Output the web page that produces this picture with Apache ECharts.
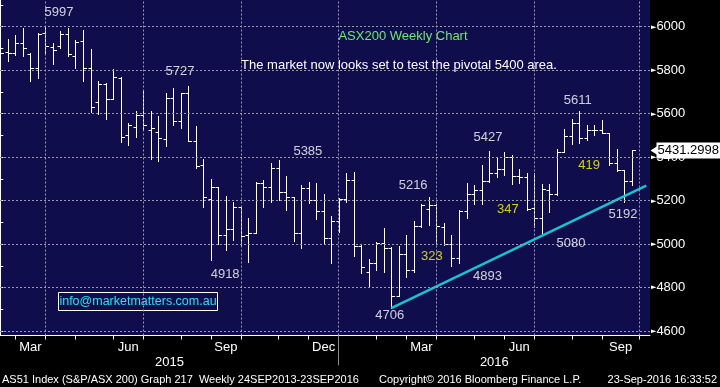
<!DOCTYPE html>
<html><head><meta charset="utf-8">
<script src="https://cdn.jsdelivr.net/npm/echarts@6/dist/echarts.min.js"></script>
<style>html,body{margin:0;padding:0;background:#000;}#c{width:720px;height:387px;}</style>
</head><body><div id="c"></div>
<script>
// Weekly OHLC, bar index 0 = week ending 13 Feb 2015 ... 84 = week ending 23 Sep 2016
const opens = [5800,5885,5880,5925,5876,5810,5970,5905,5910,5965,
5866,5935,5810,5655,5737,5667,5765,5500,5541,5593,
5527,5515,5486,5670,5566,5697,5474,5363,5207,5262,
5040,5069,5170,5040,5051,5281,5265,5349,5239,5216,
5051,5258,5204,5154,5028,5108,5209,5293,4991,4870,
4915,5007,4981,4763,4953,4881,5084,5163,5182,5080,
4999,4935,5153,5232,5250,5290,5328,5347,5403,5313,
5310,5165,5119,5249,5229,5424,5496,5557,5490,5527,
5524,5511,5374,5340,5290];
const highs = [5890,5945,5960,5995,5880,5973,5998,5927,5980,5995,
5938,5983,5897,5752,5740,5804,5768,5558,5611,5708,
5611,5588,5693,5717,5697,5727,5543,5394,5302,5265,
5221,5195,5172,5119,5285,5296,5372,5385,5314,5218,
5273,5285,5281,5230,5131,5212,5326,5331,4996,4930,
5011,5073,4985,4992,5040,5105,5186,5216,5185,5098,
5044,5156,5281,5270,5362,5427,5400,5423,5412,5345,
5326,5326,5279,5279,5440,5531,5577,5611,5547,5547,
5573,5511,5440,5340,5431.3];
const lows = [5745,5842,5868,5866,5750,5763,5874,5828,5901,5866,
5810,5750,5608,5601,5578,5667,5471,5455,5493,5527,
5394,5383,5452,5547,5535,5474,5352,5172,4928,5000,
4975,5020,4992,4918,5051,5169,5196,5204,5155,5013,
4982,5189,5118,5000,4915,5056,5192,4944,4866,4804,
4881,4874,4706,4763,4850,4874,5080,5087,5003,4995,
4900,4912,5121,5186,5186,5285,5308,5316,5278,5280,
5155,5081,5053,5150,5226,5424,5463,5466,5481,5501,
5511,5363,5336,5192,5270];
const closes = [5878,5880,5925,5900,5810,5968,5912,5895,5965,5874,
5930,5810,5631,5737,5667,5770,5494,5546,5593,5546,
5536,5490,5670,5566,5697,5474,5359,5216,5262,5040,
5069,5170,5039,5050,5281,5265,5349,5239,5216,5051,
5258,5204,5154,5028,5108,5209,5293,4991,4894,4915,
5007,4981,4763,4953,4881,5084,5179,5182,5083,4999,
4935,5153,5232,5250,5290,5328,5347,5403,5313,5310,
5162,5119,5252,5229,5424,5496,5557,5490,5527,5524,
5511,5374,5340,5290,5431.2998];
const lastPrice = 5431.2998;

// x axis (bar index) ticks and labels
const monthTickIdx = [2,6,10,15,19,24,28,32,37,41,45,50,54,58,63,67,71,76,80,85];
const quarterGridIdx = [6,19,32,45,58,71,85];
const monthLabelPos = [4,17,30,43,56,69,82.5];
const monthLabels = ['Mar','Jun','Sep','Dec','Mar','Jun','Sep'];
const yearBreakIdx = [45];
const yearLabelPos = [22.5,65.7];
const yearLabels = ['2015','2016'];
// y axis
const yTickValues = [4600,4700,4800,4900,5000,5100,5200,5300,5400,5500,5600,5700,5800,5900,6000,6100];
const yLabelValues = [4600,4800,5000,5200,5400,5600,5800,6000];
// trendline (index, value)
const trendPoints = [[52,4706],[85.9,5269]];
// annotations (index, value, text)
const whiteNotes = [[7.8,6067,'5997'],[23.9,5796,'5727'],[40.9,5428,'5385'],[54.9,5272,'5216'],
  [29.9,4861,'4918'],[51.8,4672,'4706'],[64.8,4854,'4893'],[75.9,5005,'5080'],[82.8,5136,'5192'],
  [64.85,5493,'5427'],[76.8,5663,'5611']];
const yellowNotes = [[57.4,4944,'323'],[67.5,5159,'347'],[78.3,5364,'419']];

const FA = "'Liberation Sans',Arial,sans-serif";
const X_MAX = 86.4;

const ohlc = opens.map((o,i)=>[i,o,highs[i],lows[i],closes[i]]);
const chart = echarts.init(document.getElementById('c'));
const option = {
  backgroundColor:'#000',
  animation:false,
  grid:{left:0,right:70,top:0,bottom:51.5,show:true,backgroundColor:'#0f0d4c',borderWidth:0},
  xAxis:[{
    type:'value',min:-0.04,max:X_MAX,
    axisLine:{show:true,lineStyle:{color:'#fff',width:1}},
    axisTick:{show:true,customValues:monthTickIdx,length:4,lineStyle:{color:'#fff'}},
    axisLabel:{show:true,customValues:monthLabelPos,formatter:v=>monthLabels[monthLabelPos.indexOf(v)],
      color:'#fff',fontSize:13,margin:5,fontFamily:FA},
    splitLine:{show:false}
  },{
    type:'value',min:-0.04,max:X_MAX,position:'bottom',offset:0,
    axisLine:{show:false},
    axisTick:{show:true,customValues:yearBreakIdx,length:30,lineStyle:{color:'#8a8a8a'}},
    axisLabel:{show:true,customValues:yearLabelPos,formatter:v=>yearLabels[yearLabelPos.indexOf(v)],
      color:'#fff',fontSize:13,margin:20,fontFamily:FA},
    splitLine:{show:false}
  }],
  yAxis:{
    type:'value',position:'right',min:4580,max:6123,
    axisLine:{show:true,lineStyle:{color:'#fff'}},
    axisTick:{show:true,customValues:yTickValues,length:3,lineStyle:{color:'#fff'}},
    axisLabel:{show:true,customValues:yLabelValues,margin:1,
      formatter:v=>'{t|►}{v|'+v+'}',
      rich:{t:{fontSize:7,color:'#fff',fontFamily:'DejaVu Sans'},v:{fontSize:13,color:'#fff',fontFamily:FA}}},
    splitLine:{show:false}
  },
  series:[
    {type:'line',name:'grid',data:[],z:1,silent:true,
      markLine:{silent:true,symbol:'none',animation:false,
        lineStyle:{color:'#9a9aae',type:[2,2],width:1},label:{show:false},
        data:quarterGridIdx.map(v=>({xAxis:v})).concat(yLabelValues.map(v=>({yAxis:v})))}},
    {type:'custom',name:'ASX200',data:ohlc,z:3,encode:{x:0,y:[1,2,3,4]},
      renderItem:(params,api)=>{
        const i=api.value(0),o=api.value(1),h=api.value(2),l=api.value(3),c=api.value(4);
        const pH=api.coord([i,h]),pL=api.coord([i,l]),pO=api.coord([i,o]),pC=api.coord([i,c]);
        const x=Math.round(pH[0])+0.5;
        const yo=Math.round(pO[1])+0.5,yc=Math.round(pC[1])+0.5;
        const st={stroke:'#fff',lineWidth:1};
        return {type:'group',children:[
          {type:'line',shape:{x1:x,y1:Math.round(pH[1]),x2:x,y2:Math.round(pL[1])+1},style:st},
          {type:'line',shape:{x1:x-3,y1:yo,x2:x,y2:yo},style:st},
          {type:'line',shape:{x1:x,y1:yc,x2:x+3.5,y2:yc},style:st}
        ]};
      }},
    {type:'line',name:'trend',data:trendPoints,z:4,symbol:'none',silent:true,
      lineStyle:{color:'#17c3cf',width:2.5}},
    {type:'line',name:'last',data:[],z:8,silent:true,
      markPoint:{silent:true,symbol:'triangle',symbolSize:[9,7],symbolRotate:90,symbolOffset:[4,0],
        itemStyle:{color:'#fff'},
        label:{show:true,position:'right',distance:-1,formatter:()=>String(lastPrice),
          backgroundColor:'#fff',color:'#000',fontSize:13,fontFamily:FA,padding:[2,2,1,1]},
        data:[{coord:[X_MAX,lastPrice]}]}},
    {type:'scatter',name:'notes',data:whiteNotes,symbolSize:0,z:6,silent:true,
      label:{show:true,position:'inside',formatter:p=>p.value[2],color:'#fff',fontSize:13,fontFamily:FA}},
    {type:'scatter',name:'moves',data:yellowNotes,symbolSize:0,z:6,silent:true,
      label:{show:true,position:'inside',formatter:p=>p.value[2],color:'#ffff00',fontSize:13,fontFamily:FA}}
  ],
  graphic:[
    {type:'text',x:403,y:36,style:{text:'ASX200 Weekly Chart',fill:'#6ee86e',font:'13px '+FA,align:'center',verticalAlign:'middle'}},
    {type:'text',x:399,y:65,style:{text:'The market now looks set to test the pivotal 5400 area.',fill:'#fff',font:'13px '+FA,align:'center',verticalAlign:'middle'}},
    {type:'rect',shape:{x:58.5,y:292.5,width:159,height:18},style:{stroke:'#fff',fill:'transparent',lineWidth:1}},
    {type:'text',x:138,y:302,style:{text:'info@marketmatters.com.au',fill:'#22e4f4',font:'12.5px '+FA,align:'center',verticalAlign:'middle'}},
    {type:'text',x:2,y:380,style:{text:'AS51 Index (S&P/ASX 200) Graph 217  Weekly 24SEP2013-23SEP2016',fill:'#fff',font:'11px '+FA,align:'left',verticalAlign:'middle'}},
    {type:'text',x:379,y:380,style:{text:'Copyright© 2016 Bloomberg Finance L.P.',fill:'#fff',font:'11px '+FA,align:'left',verticalAlign:'middle'}},
    {type:'text',x:717,y:380,style:{text:'23-Sep-2016 16:33:52',fill:'#fff',font:'11px '+FA,align:'right',verticalAlign:'middle'}}
  ]
};
chart.setOption(option);
</script>
</body></html>
